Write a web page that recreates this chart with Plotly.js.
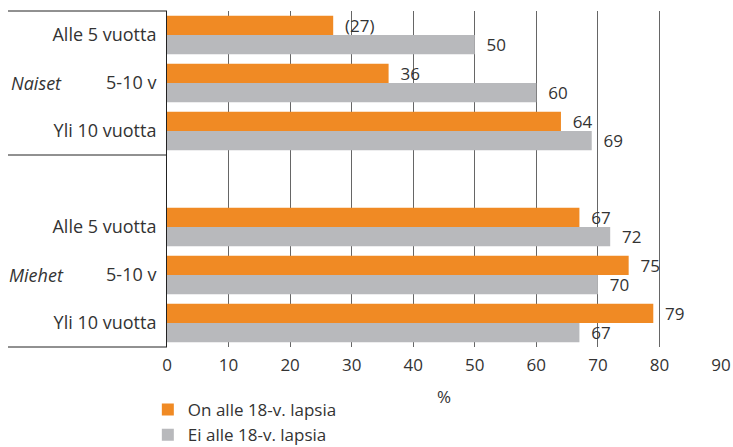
<!DOCTYPE html>
<html>
<head>
<meta charset="utf-8">
<script src="https://cdn.plot.ly/plotly-3.0.1.min.js"></script>
<style>html,body{margin:0;padding:0;background:#fff;}#chart{width:733px;height:447px;}</style>
</head>
<body>
<div id="chart"></div>
<script>
// Category ids (one per row, "gap" is the empty spacer row)
const categories = ["N_alle5", "N_5-10", "N_yli10", "gap", "M_alle5", "M_5-10", "M_yli10"];
const tickLabels = ["Alle 5 vuotta", "5-10 v", "Yli 10 vuotta", "", "Alle 5 vuotta", "5-10 v", "Yli 10 vuotta"];
const groupNames = ["Naiset", "Miehet"];
const groupCenters = ["N_5-10", "M_5-10"];
const seriesNames = ["On alle 18-v. lapsia", "Ei alle 18-v. lapsia"];
const valuesWithKids = [27, 36, 64, null, 67, 75, 79];
const valuesNoKids = [50, 60, 69, null, 72, 70, 67];
const labelsWithKids = ["(27)", "36", "64", "", "67", "75", "79"];
const labelsNoKids = ["50", "60", "69", "", "72", "70", "67"];
const xTicks = [0, 10, 20, 30, 40, 50, 60, 70, 80, 90];
const xTitle = "%";

const FONT = "Open Sans, Noto Sans, sans-serif";
const TXT = "#333333";
const NB = "\u00a0\u00a0";

const traces = [
  {
    type: "bar", orientation: "h", name: seriesNames[0],
    y: categories, x: valuesWithKids, text: labelsWithKids,
    texttemplate: NB + "%{text}", textposition: "outside", constraintext: "none",
    cliponaxis: false, textfont: {family: FONT, size: 17, color: TXT},
    marker: {color: "#F08A24"}, hoverinfo: "x+name"
  },
  {
    type: "bar", orientation: "h", name: seriesNames[1],
    y: categories, x: valuesNoKids, text: labelsNoKids,
    texttemplate: NB + "%{text}", textposition: "outside", constraintext: "none",
    cliponaxis: false, textfont: {family: FONT, size: 17, color: TXT},
    marker: {color: "#B8B9BC"}, hoverinfo: "x+name"
  }
];

const annotations = groupNames.map((g, i) => ({
  text: g, xref: "paper", yref: "y", x: -0.2347, y: groupCenters[i],
  xanchor: "center", yanchor: "middle", showarrow: false,
  font: {family: FONT, size: 18, color: TXT, style: "italic"}
}));
annotations.push({
  text: xTitle, xref: "paper", yref: "paper", x: 0.5, y: -0.1488,
  xanchor: "center", yanchor: "middle", showarrow: false,
  font: {family: FONT, size: 17, color: TXT}
});

const lineStyle = {color: "#222222", width: 1};
const shapes = [
  {type: "line", xref: "paper", yref: "paper", x0: -0.287, x1: 0, y0: 1, y1: 1, line: lineStyle},
  {type: "line", xref: "paper", yref: "y", x0: -0.287, x1: 0, y0: 2.5, y1: 2.5, line: lineStyle},
  {type: "line", xref: "paper", yref: "paper", x0: -0.287, x1: 0, y0: 0, y1: 0, line: lineStyle}
];

const layout = {
  width: 733, height: 447,
  margin: {l: 167, r: 12, t: 11, b: 100},
  paper_bgcolor: "#ffffff", plot_bgcolor: "#ffffff",
  font: {family: FONT, size: 17, color: TXT},
  barmode: "group", bargap: 0.2, bargroupgap: 0,
  showlegend: true,
  legend: {
    xref: "paper", yref: "container",
    x: -0.0346, xanchor: "left", y: 0.123, yanchor: "top",
    orientation: "v",
    font: {family: FONT, size: 17, color: TXT},
    bgcolor: "rgba(0,0,0,0)"
  },
  xaxis: {
    range: [0, 90], tickvals: xTicks, ticktext: xTicks.map(String),
    showgrid: true, gridcolor: "#666666", gridwidth: 1,
    zeroline: false, showline: false, ticks: "",
    ticklabelstandoff: 6,
    tickfont: {family: FONT, size: 17, color: TXT},
    fixedrange: true
  },
  yaxis: {
    type: "category", categoryorder: "array", categoryarray: categories,
    tickvals: categories, ticktext: tickLabels,
    range: [6.5, -0.5],
    showgrid: false, zeroline: false,
    showline: true, linecolor: "#222222", linewidth: 1,
    ticks: "", ticklabelstandoff: 6,
    tickfont: {family: FONT, size: 18, color: TXT},
    fixedrange: true
  },
  annotations: annotations,
  shapes: shapes
};

Plotly.newPlot("chart", traces, layout, {displayModeBar: false, staticPlot: true});
</script>
</body>
</html>
